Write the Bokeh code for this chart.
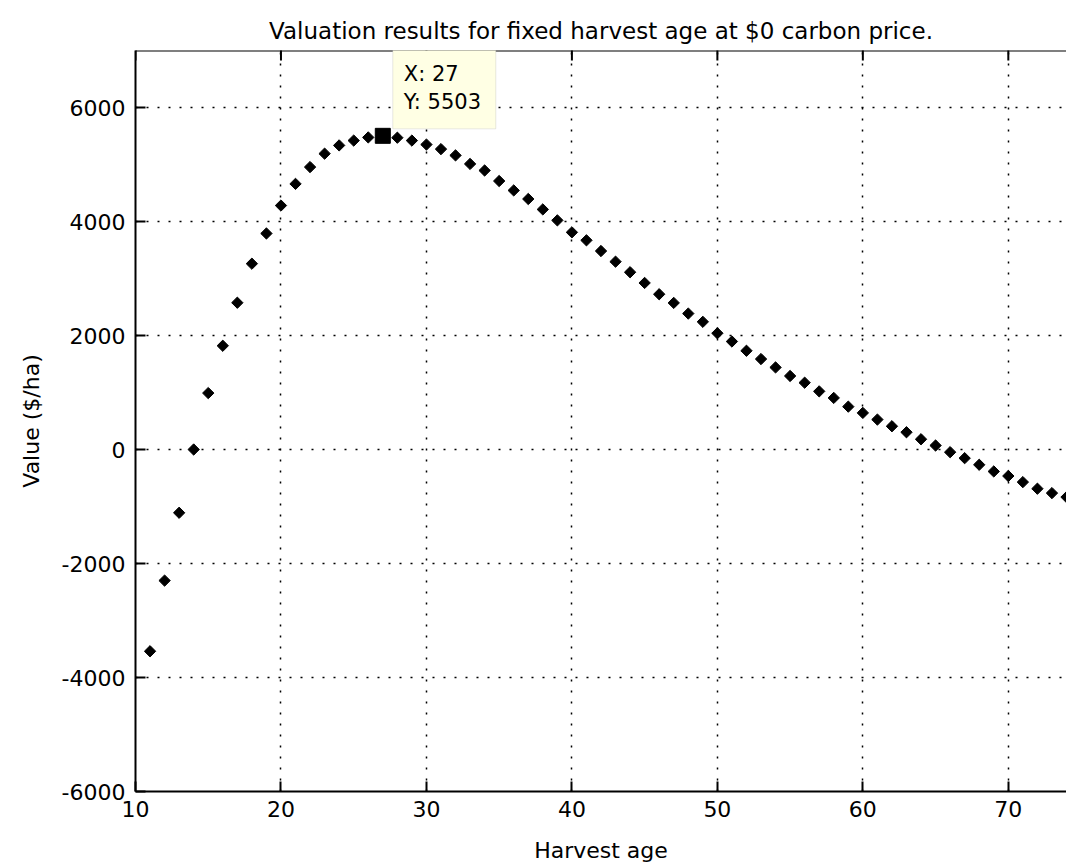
import math
from bokeh.plotting import figure
from bokeh.models import (FixedTicker, BoxAnnotation, Label, Span,
                          ColumnDataSource, Range1d)
from bokeh.embed import file_html
from bokeh.resources import INLINE

# ---- data ----
harvest_age = list(range(11, 75))
value = [-3540, -2300, -1110, 0, 990, 1820, 2575, 3260, 3790, 4280,
         4660, 4955, 5190, 5335, 5420, 5475, 5503, 5470, 5420, 5350,
         5270, 5160, 5010, 4895, 4710, 4545, 4395, 4212, 4020, 3810,
         3670, 3482, 3295, 3110, 2922, 2724, 2572, 2385, 2240, 2040,
         1895, 1732, 1587, 1440, 1290, 1172, 1020, 905, 752, 642,
         525, 408, 303, 180, 70, -47, -152, -268, -385, -465,
         -572, -688, -765, -835]
tip_x = 27
tip_y = 5503
x_ticks = [10, 20, 30, 40, 50, 60, 70]
y_ticks = [-6000, -4000, -2000, 0, 2000, 4000, 6000]
y_tick_labels = ["-6000", "-4000", "-2000", "0", "2000", "4000", "6000"]
title_text = "Valuation results for fixed harvest age at $0 carbon price."
x_label = "Harvest age"
y_label = "Value ($/ha)"

FONT = "DejaVu Sans"
Y_TOP = 7000

p = figure(width=1066, height=866, output_backend="svg", toolbar_location=None,
           x_range=Range1d(10, 74.0), y_range=Range1d(-6000, Y_TOP),
           min_border_left=135, min_border_right=0, min_border_top=50,
           min_border_bottom=75, outline_line_color=None,
           x_axis_label=x_label, y_axis_label=y_label)
p.background_fill_color = "white"
p.border_fill_color = "white"

p.title.text = title_text
p.title.text_font = FONT
p.title.text_font_size = "23px"
p.title.text_font_style = "normal"
p.title.align = "center"
p.title.vertical_align = "top"
p.title.text_color = "black"
p.title.standoff = 10

for ax in (p.xaxis[0], p.yaxis[0]):
    ax.axis_line_color = "black"
    ax.axis_line_width = 2
    ax.major_tick_in = 10
    ax.major_tick_out = 0
    ax.major_tick_line_width = 2
    ax.minor_tick_line_color = None
    ax.major_label_text_font = FONT
    ax.major_label_text_font_size = "22px"
    ax.major_label_text_color = "black"
    ax.axis_label_text_font = FONT
    ax.axis_label_text_font_size = "22px"
    ax.axis_label_text_font_style = "normal"
    ax.axis_label_text_color = "black"

p.xaxis[0].ticker = FixedTicker(ticks=x_ticks)
p.yaxis[0].ticker = FixedTicker(ticks=y_ticks)
p.yaxis[0].major_label_overrides = dict(zip(y_ticks, y_tick_labels))
p.xaxis[0].major_label_standoff = 9
p.yaxis[0].major_label_standoff = 10
p.xaxis[0].axis_label_standoff = 18
p.yaxis[0].axis_label_standoff = 15

# top border and inward top ticks
p.add_layout(Span(location=Y_TOP, dimension="width", line_color="black",
                  line_width=2))
p.scatter(x_ticks, [Y_TOP] * len(x_ticks), marker="dash", angle=math.pi / 2,
          size=20, line_color="black", line_width=2)

p.grid.grid_line_color = "black"
p.grid.grid_line_dash = "2 9"
p.grid.grid_line_width = 1.5
p.xgrid.ticker = FixedTicker(ticks=x_ticks)
p.ygrid.ticker = FixedTicker(ticks=y_ticks)

src = ColumnDataSource(dict(x=harvest_age, y=value))
p.scatter("x", "y", source=src, marker="square", angle=math.pi / 4,
          size=8, fill_color="black", line_color="black")

p.scatter([tip_x], [tip_y], marker="square", size=15,
          fill_color="black", line_color="black")

# data tip box
px_per_x = 931 / 64.0
px_per_y = 741 / 13000.0
box = BoxAnnotation(left=tip_x + 10 / px_per_x, right=tip_x + 113 / px_per_x,
                    bottom=tip_y + 7 / px_per_y, top=tip_y + 86 / px_per_y,
                    fill_color="#FFFFE4", fill_alpha=1.0,
                    line_color="#B4B4B4", line_width=1)
p.add_layout(box)
p.add_layout(Label(x=tip_x, y=tip_y, x_offset=21, y_offset=62,
                   text="X: %d" % tip_x, text_font=FONT, text_font_size="21px",
                   text_baseline="middle", text_color="black"))
p.add_layout(Label(x=tip_x, y=tip_y, x_offset=21, y_offset=34,
                   text="Y: %d" % tip_y, text_font=FONT, text_font_size="21px",
                   text_baseline="middle", text_color="black"))

open("out.html", "w").write(file_html(p, INLINE))
